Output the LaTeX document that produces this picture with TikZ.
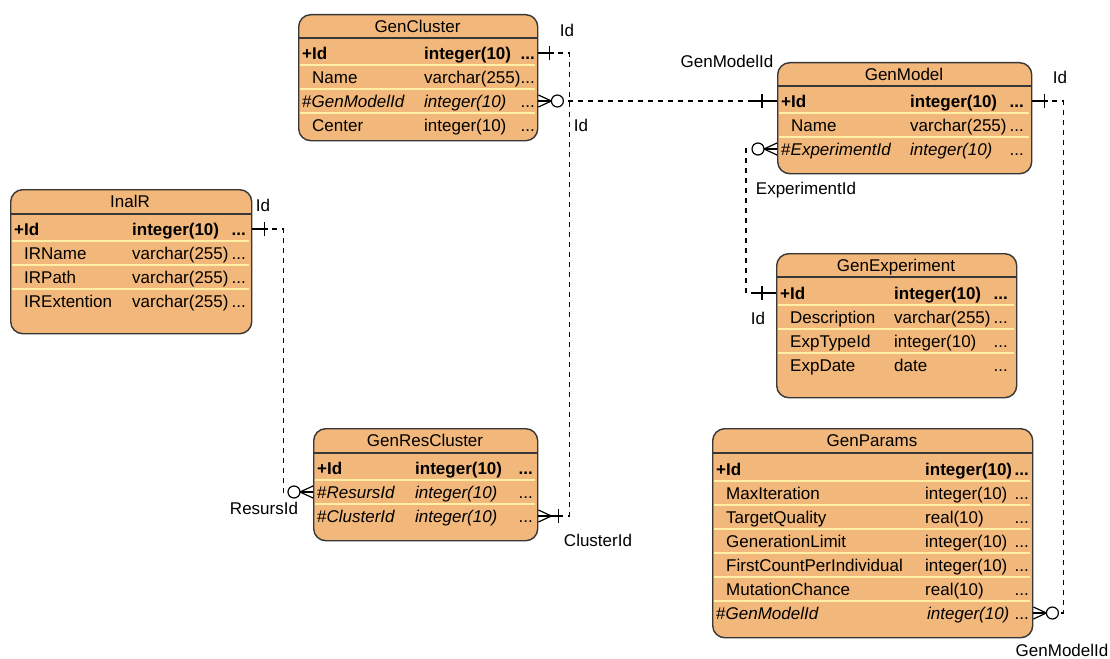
\documentclass[tikz,border=0pt]{standalone}
\usepackage{fontspec}
\setmainfont{Liberation Sans}
\usetikzlibrary{calc}
\definecolor{tfill}{RGB}{242,183,122}
\definecolor{tline}{RGB}{55,55,55}
\definecolor{tsep}{RGB}{255,240,165}
\newcommand\erow[8]{%
  \node[rt] (#1) at (#3,#2) {#4};
  \node[rt] (#1t) at (#5,#2) {#6};
  \node[rt,anchor=east] (#1d) at (#7,#2) {#8...};}
\tikzset{
  tbl/.style={draw=tline, line width=1.4pt, fill=tfill, rounded corners=12pt, anchor=north west, inner sep=0pt},
  hdr/.style={draw=tline, line width=1.4pt},
  sep/.style={draw=tsep, line width=2pt},
  rt/.style={inner sep=0pt, anchor=west, text height=12.2pt, text depth=0pt, font=\fontsize{17}{20}\selectfont},
  ttl/.style={inner sep=0pt, text height=12.2pt, text depth=0pt, font=\fontsize{17}{20}\selectfont},
  lbl/.style={inner sep=0pt, text height=12.2pt, text depth=0pt, font=\fontsize{17}{20}\selectfont},
  conn/.style={draw=black, line width=1.2pt, dash pattern=on 5pt off 5pt},
  mk/.style={draw=black, solid, line width=1.2pt},
  pics/crowfoot/.style={code={\draw[mk] (0,-6) -- (13,0) -- (0,6); \draw[mk] (0,0) -- (13,0);}},
  pics/zeroring/.style={code={\draw[mk,fill=white] (19,0) circle (6pt);}},
  pics/onebar/.style={code={\draw[mk] (#1,-7) -- (#1,7);}},
  pics/stub/.style={code={\draw[mk] (0,0) -- (#1,0);}},
}
\begin{document}
\begin{tikzpicture}[x=1pt,y=-1pt]
\useasboundingbox (0,0) rectangle (1110,658);
\fill[white] (0,0) rectangle (1110,658);

% ---------- GenCluster ----------
\node[tbl, minimum width=239pt, minimum height=126pt] (gc) at (298,14) {};
\draw[hdr] (298,38) -- (537,38);
\foreach \y in {65,89,113} \draw[sep] (300,\y) -- (535,\y);
\node[ttl] (gctitle) at (417.5,26) {GenCluster};
\erow{gcn1}{53}{302}{\bfseries +Id}{424}{\bfseries integer(10)}{535}{\bfseries ~}
\erow{gcn2}{77}{312}{Name}{424}{varchar(255)}{535}{}
\erow{gcn3}{101}{302}{\#\textit{GenModelId}}{424}{\textit{integer(10)}}{535}{}
\erow{gcn4}{125}{312}{Center}{424}{integer(10)}{535}{}

% ---------- GenModel ----------
\node[tbl, minimum width=254pt, minimum height=111pt] (gm) at (777,62) {};
\draw[hdr] (777,86) -- (1031,86);
\foreach \y in {113,137} \draw[sep] (779,\y) -- (1029,\y);
\node[ttl] (gmtitle) at (904,74) {GenModel};
\erow{gmn1}{101}{781}{\bfseries +Id}{910}{\bfseries integer(10)}{1024}{\bfseries ~}
\erow{gmn2}{125}{791}{Name}{910}{varchar(255)}{1024}{}
\erow{gmn3}{149}{781}{\#\textit{ExperimentId}}{910}{\textit{integer(10)}}{1024}{}

% ---------- GenExperiment ----------
\node[tbl, minimum width=240pt, minimum height=144pt] (ge) at (776,253) {};
\draw[hdr] (776,277) -- (1016,277);
\foreach \y in {305,329,353} \draw[sep] (778,\y) -- (1014,\y);
\node[ttl] (getitle) at (896,265) {GenExperiment};
\erow{gen1}{293}{780}{\bfseries +Id}{894}{\bfseries integer(10)}{1008}{\bfseries ~}
\erow{gen2}{317}{790}{Description}{894}{varchar(255)}{1008}{}
\erow{gen3}{341}{790}{ExpTypeId}{894}{integer(10)}{1008}{}
\erow{gen4}{365}{790}{ExpDate}{894}{date}{1008}{}

% ---------- GenParams ----------
\node[tbl, minimum width=320pt, minimum height=209pt] (gp) at (712,428) {};
\draw[hdr] (712,453) -- (1032,453);
\foreach \y in {481,505,529,553,577,601} \draw[sep] (714,\y) -- (1030,\y);
\node[ttl] (gptitle) at (872,440) {GenParams};
\erow{gpn1}{469}{716}{\bfseries +Id}{925}{\bfseries integer(10)}{1029}{\bfseries}
\erow{gpn2}{493}{726}{MaxIteration}{925}{integer(10)}{1029}{}
\erow{gpn3}{517}{726}{TargetQuality}{925}{real(10)}{1029}{}
\erow{gpn4}{541}{726}{GenerationLimit}{925}{integer(10)}{1029}{}
\erow{gpn5}{565}{726}{FirstCountPerIndividual}{925}{integer(10)}{1029}{}
\erow{gpn6}{589}{726}{MutationChance}{925}{real(10)}{1029}{}
\erow{gpn7}{613}{716}{\#\textit{GenModelId}}{927}{\textit{integer(10)}}{1029}{}

% ---------- GenResCluster ----------
\node[tbl, minimum width=224pt, minimum height=112pt] (grc) at (313,428) {};
\draw[hdr] (313,453) -- (537,453);
\foreach \y in {480,504} \draw[sep] (315,\y) -- (535,\y);
\node[ttl] (grctitle) at (425,440) {GenResCluster};
\erow{grcn1}{468}{317}{\bfseries +Id}{415}{\bfseries integer(10)}{533}{\bfseries ~}
\erow{grcn2}{492}{317}{\#\textit{ResursId}}{415}{\textit{integer(10)}}{533}{}
\erow{grcn3}{516}{317}{\#\textit{ClusterId}}{415}{\textit{integer(10)}}{533}{}

% ---------- InalR ----------
\node[tbl, minimum width=241pt, minimum height=144pt] (ir) at (10,189) {};
\draw[hdr] (10,214) -- (251,214);
\foreach \y in {241,265,289} \draw[sep] (12,\y) -- (249,\y);
\node[ttl] (irtitle) at (130,201) {InalR};
\erow{irn1}{229}{14}{\bfseries +Id}{132}{\bfseries integer(10)}{246}{\bfseries ~}
\erow{irn2}{253}{24}{IRName}{132}{varchar(255)}{246}{}
\erow{irn3}{277}{24}{IRPath}{132}{varchar(255)}{246}{}
\erow{irn4}{301}{24}{IRExtention}{132}{varchar(255)}{246}{}

% ---------- connector end points ----------
\coordinate (a1) at (gc.east |- gcn1);
\coordinate (b1) at (grc.east |- grcn3);
\coordinate (a2) at (gc.east |- gcn3);
\coordinate (b2) at (gm.west |- gmn1);
\coordinate (a3) at (gm.west |- gmn3);
\coordinate (b3) at (ge.west |- gen1);
\coordinate (a4) at (gm.east |- gmn1);
\coordinate (b4) at (gp.east |- gpn7);
\coordinate (a5) at (ir.east |- irn1);
\coordinate (b5) at (grc.west |- grcn2);

% ---------- connectors ----------
\draw[conn] (a1) -- ++(31,0) |- (b1);
\draw[conn] (a2) -- (b2);
\draw[conn] (a3) -- ++(-31,0) |- (b3);
\draw[conn] (a4) -- ++(31,0) |- (b4);
\draw[conn] (a5) -- ++(31,0) |- (b5);

% ---------- markers ----------
\pic at (a1) {stub=16}; \pic at (a1) {onebar=11};
\pic at (b1) {crowfoot}; \pic at (b1) {stub=24}; \pic at (b1) {onebar=20};
\pic at (a2) {crowfoot}; \pic at (a2) {zeroring};
\pic[rotate=180] at (b2) {stub=24}; \pic[rotate=180] at (b2) {onebar=15};
\pic[rotate=180] at (a3) {crowfoot}; \pic[rotate=180] at (a3) {zeroring};
\pic[rotate=180] at (b3) {stub=20}; \pic[rotate=180] at (b3) {onebar=14};
\pic at (a4) {stub=16}; \pic at (a4) {onebar=12};
\pic at (b4) {crowfoot}; \pic at (b4) {zeroring};
\pic at (a5) {stub=16}; \pic at (a5) {onebar=12};
\pic[rotate=180] at (b5) {crowfoot}; \pic[rotate=180] at (b5) {zeroring};

% ---------- labels ----------
\node[lbl] (l1) at (567,30) {Id};
\node[lbl] (l2) at (581,125) {Id};
\node[lbl] (l3) at (727,61) {GenModelId};
\node[lbl] (l4) at (1060,77) {Id};
\node[lbl] (l5) at (806,188) {ExperimentId};
\node[lbl] (l6) at (758,318) {Id};
\node[lbl] (l7) at (263,205) {Id};
\node[lbl] (l8) at (264,508) {ResursId};
\node[lbl] (l9) at (598,540) {ClusterId};
\node[lbl] (l10) at (1062,650) {GenModelId};
\end{tikzpicture}
\end{document}
